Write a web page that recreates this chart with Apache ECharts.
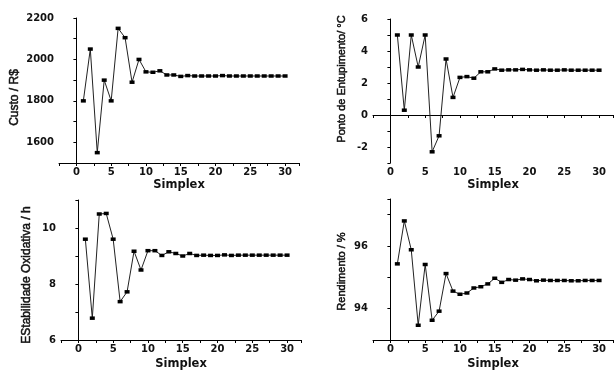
<!DOCTYPE html>
<html>
<head>
<meta charset="utf-8">
<script src="https://cdn.jsdelivr.net/npm/echarts@6/dist/echarts.min.js"></script>
<style>
  html, body { margin: 0; padding: 0; background: #fff; }
  #chart { width: 616px; height: 371px; }
</style>
</head>
<body>
<div id="chart"></div>
<script>
// simplex iteration number
const simplex = Array.from({ length: 30 }, (_, i) => i + 1);

// values
const custo = [1800, 2050, 1550, 1900, 1800, 2150, 2105, 1890, 2000, 1940, 1938, 1945, 1925, 1925, 1918,
  1922, 1920, 1920, 1920, 1920, 1922, 1920, 1920, 1920, 1920, 1920, 1920, 1920, 1920, 1920];
const entupimento = [5, 0.3, 5, 3, 5, -2.3, -1.3, 3.5, 1.1, 2.35, 2.4, 2.3, 2.7, 2.7, 2.88,
  2.8, 2.82, 2.82, 2.85, 2.82, 2.8, 2.82, 2.8, 2.8, 2.82, 2.8, 2.8, 2.8, 2.8, 2.8];
const estabilidade = [9.6, 6.78, 10.5, 10.52, 9.6, 7.37, 7.72, 9.17, 8.5, 9.19, 9.19, 9.02, 9.15, 9.09, 9.0,
  9.09, 9.02, 9.03, 9.02, 9.02, 9.04, 9.02, 9.03, 9.03, 9.03, 9.03, 9.03, 9.03, 9.03, 9.03];
const rendimento = [95.43, 96.8, 95.88, 93.47, 95.41, 93.63, 93.92, 95.12, 94.56, 94.46, 94.5, 94.66, 94.7, 94.79, 94.97,
  94.84, 94.93, 94.91, 94.95, 94.93, 94.89, 94.91, 94.9, 94.9, 94.9, 94.89, 94.89, 94.9, 94.9, 94.9];

const xName = 'Simplex';
const yNames = ['Custo / R$', 'Ponto de Entupimento/ °C', 'EStabilidade Oxidativa / h', 'Rendimento / %'];
// y scale: [min, max, tick step, label step]
const yScales = [[1500, 2200, 100, 200], [-3, 6, 1, 2], [6, 11, 1, 2], [93, 97.5, 1, 2]];

const panels = [
  { data: custo, grid: { left: 59, top: 18, width: 240, height: 145 }, nameGap: 38, nameSize: 12, namePad: [0, 14, 0, 0], xGap: 16 },
  { data: entupimento, grid: { left: 373, top: 19, width: 240, height: 144 }, nameGap: 26, nameSize: 11, namePad: [0, 0, 0, 24], xGap: 16 },
  { data: estabilidade, grid: { left: 61, top: 200, width: 240, height: 143 }, nameGap: 28, nameSize: 12, namePad: [0, 10, 0, 0], xGap: 18 },
  { data: rendimento, grid: { left: 373, top: 199, width: 240, height: 143 }, nameGap: 26, nameSize: 11, namePad: [0, 4, 0, 0], xGap: 18 }
];

const tickFont = { fontFamily: 'DejaVu Sans', fontWeight: 'bold', fontSize: 10, color: '#111' };

const chart = echarts.init(document.getElementById('chart'), null, { renderer: 'canvas' });

const option = {
  backgroundColor: '#fff',
  animation: false,
  grid: panels.map(p => Object.assign({ containLabel: false }, p.grid)),
  xAxis: panels.map((p, i) => ({
    gridIndex: i,
    type: 'value',
    min: -2.5,
    max: 32,
    interval: 2.5,
    name: xName,
    nameLocation: 'middle',
    nameGap: p.xGap,
    nameTextStyle: { fontFamily: 'DejaVu Sans', fontWeight: 'bold', fontSize: 11.5, color: '#111' },
    axisLine: { show: true, lineStyle: { color: '#000', width: 1 } },
    axisTick: { show: true, length: 3, lineStyle: { color: '#000' } },
    axisLabel: Object.assign({ margin: 4, formatter: v => (v % 5 === 0 ? String(v) : '') }, tickFont),
    splitLine: { show: false }
  })),
  yAxis: panels.map((p, i) => ({
    gridIndex: i,
    type: 'value',
    min: yScales[i][0],
    max: yScales[i][1],
    interval: yScales[i][2],
    name: yNames[i],
    nameLocation: 'middle',
    nameGap: p.nameGap,
    nameTextStyle: {
      fontFamily: 'Liberation Sans', fontSize: p.nameSize, color: '#111',
      textBorderColor: '#111', textBorderWidth: 0.5, padding: p.namePad
    },
    axisLine: { show: true, lineStyle: { color: '#000', width: 1 } },
    axisTick: { show: true, length: 3, lineStyle: { color: '#000' } },
    axisLabel: Object.assign({
      margin: 5,
      showMaxLabel: true,
      formatter: v => (v % yScales[i][3] === 0 ? String(v) : '')
    }, tickFont),
    splitLine: { show: false }
  })),
  series: panels.map((p, i) => ({
    type: 'line',
    xAxisIndex: i,
    yAxisIndex: i,
    data: simplex.map((s, k) => [s, p.data[k]]),
    symbol: 'rect',
    symbolSize: [5, 3.5],
    lineStyle: { color: '#222', width: 1 },
    itemStyle: { color: '#000' }
  }))
};

chart.setOption(option);
</script>
</body>
</html>
